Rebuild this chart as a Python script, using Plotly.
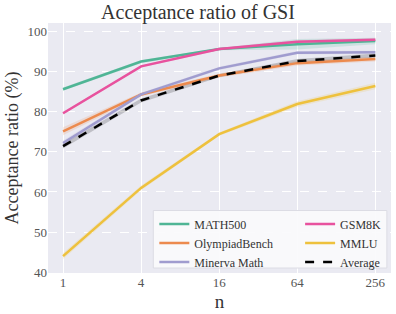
import plotly.graph_objects as go

n_values = [1, 4, 16, 64, 256]
tick_labels = ["1", "4", "16", "64", "256"]

math500 = [85.6, 92.5, 95.6, 96.8, 97.6]
gsm8k = [79.6, 91.3, 95.6, 97.4, 97.9]
olympiad = [75.1, 84.3, 89.0, 92.1, 93.1]
mmlu = [44.0, 61.0, 74.4, 81.9, 86.4]
minerva = [72.2, 84.3, 90.8, 94.7, 94.8]
average = [71.4, 82.8, 89.0, 92.6, 94.0]

math500_sd = [0.4, 0.4, 0.3, 1.3, 0.8]
gsm8k_sd = [0.3, 0.3, 0.3, 0.4, 0.4]
olympiad_sd = [1.0, 0.5, 0.5, 0.6, 0.6]
mmlu_sd = [0.8, 0.6, 0.4, 0.7, 0.8]
minerva_sd = [0.6, 0.4, 0.4, 0.4, 0.4]
average_sd = [0.6, 0.5, 0.4, 0.5, 0.5]

# (name, values, sd, color, dash, legend column)
series = [
    ("MATH500", math500, math500_sd, "#4fb595", "solid", "legend"),
    ("OlympiadBench", olympiad, olympiad_sd, "#ec8a4e", "solid", "legend"),
    ("Minerva Math", minerva, minerva_sd, "#a09ccf", "solid", "legend"),
    ("GSM8K", gsm8k, gsm8k_sd, "#e8529e", "solid", "legend2"),
    ("MMLU", mmlu, mmlu_sd, "#eec13d", "solid", "legend2"),
    ("Average", average, average_sd, "#000000", "dash", "legend2"),
]

def rgba(hexc, a):
    h = hexc.lstrip("#")
    r, g, b = int(h[0:2], 16), int(h[2:4], 16), int(h[4:6], 16)
    return f"rgba({r},{g},{b},{a})"

fig = go.Figure()
for name, vals, sd, col, dash, lg in series:
    lo = [v - s for v, s in zip(vals, sd)]
    hi = [v + s for v, s in zip(vals, sd)]
    fig.add_trace(go.Scatter(x=n_values, y=hi, mode="lines", line=dict(width=0),
                             showlegend=False, hoverinfo="skip"))
    fig.add_trace(go.Scatter(x=n_values, y=lo, mode="lines", line=dict(width=0),
                             fill="tonexty", fillcolor=rgba(col, 0.18),
                             showlegend=False, hoverinfo="skip"))

for name, vals, sd, col, dash, lg in series:
    fig.add_trace(go.Scatter(x=n_values, y=vals, mode="lines", name=name, legend=lg,
                             line=dict(color=col, width=2.5, dash=dash)))

serif = "Liberation Serif, DejaVu Serif, serif"
leg_common = dict(bgcolor="rgba(0,0,0,0)", borderwidth=0, traceorder="normal",
                  font=dict(size=12, color="#333333"), itemwidth=30,
                  yanchor="top", y=0.254, xanchor="left", tracegroupgap=0)

fig.update_layout(
    width=396, height=314,
    margin=dict(l=48, r=5, t=23, b=41, autoexpand=False),
    paper_bgcolor="white",
    plot_bgcolor="#eaeaf2",
    font=dict(family=serif, color="#555555", size=13),
    title=dict(text="Acceptance ratio of GSI", x=0.5, xanchor="center",
               y=0.962, yanchor="middle", yref="container",
               font=dict(family=serif, size=20, color="#333333")),
    xaxis=dict(type="log", range=[-0.116, 2.529], tickvals=n_values, ticktext=tick_labels,
               showgrid=True, gridcolor="white", gridwidth=1, zeroline=False,
               ticks="", automargin=False,
               title=dict(text="n", font=dict(size=19, color="#333333"), standoff=5)),
    yaxis=dict(range=[39.8, 102.1], tickvals=[40, 50, 60, 70, 80, 90, 100],
               showgrid=True, gridcolor="white", gridwidth=1, griddash="dash",
               zeroline=False, ticks="", automargin=False,
               title=dict(text="Acceptance ratio (%)", font=dict(size=18, color="#333333"), standoff=4)),
    legend=dict(x=0.31, **leg_common),
    legend2=dict(x=0.735, **leg_common),
    shapes=[dict(type="rect", xref="paper", yref="paper", x0=0.307, x1=0.988,
                 y0=0.02, y1=0.25, fillcolor="rgba(250,250,252,0.92)",
                 line=dict(color="#dcdce4", width=1), layer="above")],
)

fig.write_html("out.html", config={"displayModeBar": False},
               post_script="document.body.style.margin='0';")
